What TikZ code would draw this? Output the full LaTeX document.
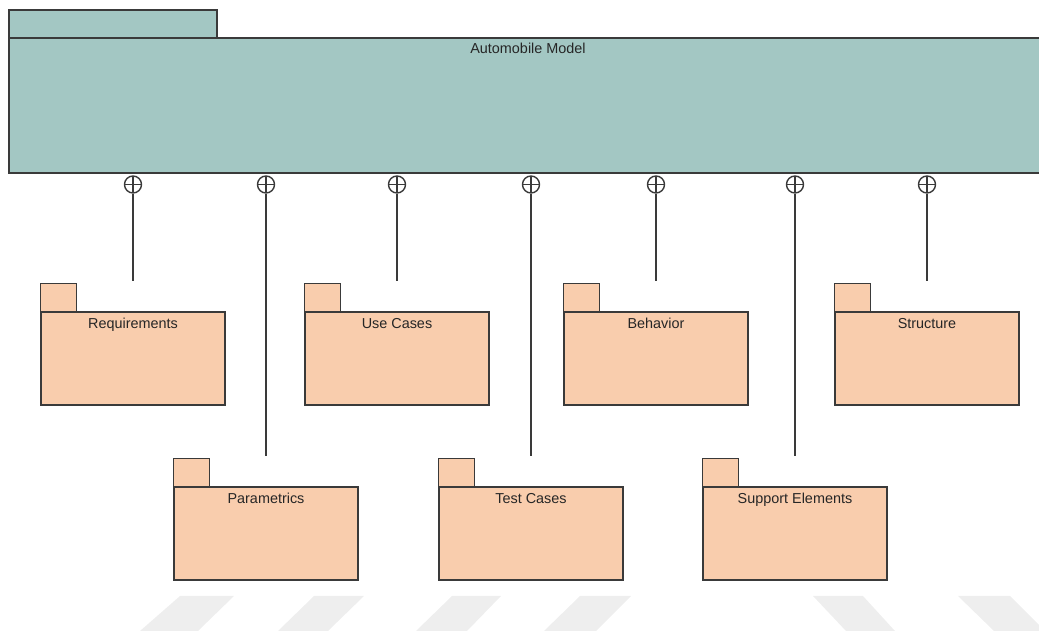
\documentclass[tikz,border=0pt]{standalone}
\usepackage{fontspec}
\setmainfont{Liberation Sans}

\definecolor{modelteal}{HTML}{A3C7C3}
\definecolor{pkgpeach}{HTML}{F9CDAD}
\definecolor{edgegray}{HTML}{3A3A3A}
\definecolor{stripegray}{HTML}{EEEEEE}

\begin{document}
\begin{tikzpicture}[x=0.02cm, y=-0.02cm, line width=0.8pt]
    \tikzset{
        pkgbody/.style={draw=edgegray, fill=pkgpeach, minimum width=3.68cm, minimum height=1.86cm, inner sep=0pt},
        pkgtab/.style={draw=edgegray, fill=pkgpeach},
        pkgtext/.style={anchor=north, inner sep=0pt, yshift=-0.12cm, text=black!85, font=\fontsize{8.2}{10}\selectfont},
        oplus/.style={circle, draw=edgegray, minimum size=0.34cm, inner sep=0pt,
            path picture={\draw[line width=0.6pt] (path picture bounding box.north) -- (path picture bounding box.south)
                (path picture bounding box.west) -- (path picture bounding box.east);}},
        conn/.style={draw=edgegray},
        stripe/.style={fill=stripegray}
    }
    \useasboundingbox (0,0) rectangle (1039,631);

    % faint stripes along the bottom
    \foreach \a/\b/\c/\d in {140/180/234/198, 278/314/364/328, 416/452/501/467, 544/580/631/596}
        \fill[stripe] (\a,631) -- (\b,596) -- (\c,596) -- (\d,631) -- cycle;
    \foreach \a/\b/\c/\d in {846/813/863/895, 994/958/1010/1045}
        \fill[stripe] (\a,631) -- (\b,596) -- (\c,596) -- (\d,631) -- cycle;

    % the whole model
    \draw[draw=edgegray, fill=modelteal] (9,10) rectangle (217,38);
    \node[draw=edgegray, fill=modelteal, minimum width=20.76cm, minimum height=2.7cm, inner sep=0pt]
        (model) at (528,105.5) {};
    \node[pkgtext, yshift=0.01cm] (model-lbl) at (model.north) {Automobile Model};

    % sub packages
    \foreach \n/\x/\y/\t in {req/133/358.5/Requirements, uc/397/358.5/Use Cases,
                             beh/656/358.5/Behavior, str/927/358.5/Structure,
                             par/266/533.5/Parametrics, tc/531/533.5/Test Cases,
                             se/795/533.5/Support Elements} {
        \node[pkgbody] (\n) at (\x,\y) {};
        \draw[pkgtab] (\n.north west) rectangle ++(36,-28);
        \node[pkgtext] (\n-lbl) at (\n.north) {\t};
        \coordinate (\n-top) at ([yshift=0.6cm]\n.north);
    }

    % containment links
    \foreach \n in {req, par, uc, tc, beh, se, str} {
        \node[oplus] (\n-o) at (\n-top |- 0,184.5) {};
        \draw[conn] (\n-o.south) -- (\n-top);
    }
\end{tikzpicture}
\end{document}
